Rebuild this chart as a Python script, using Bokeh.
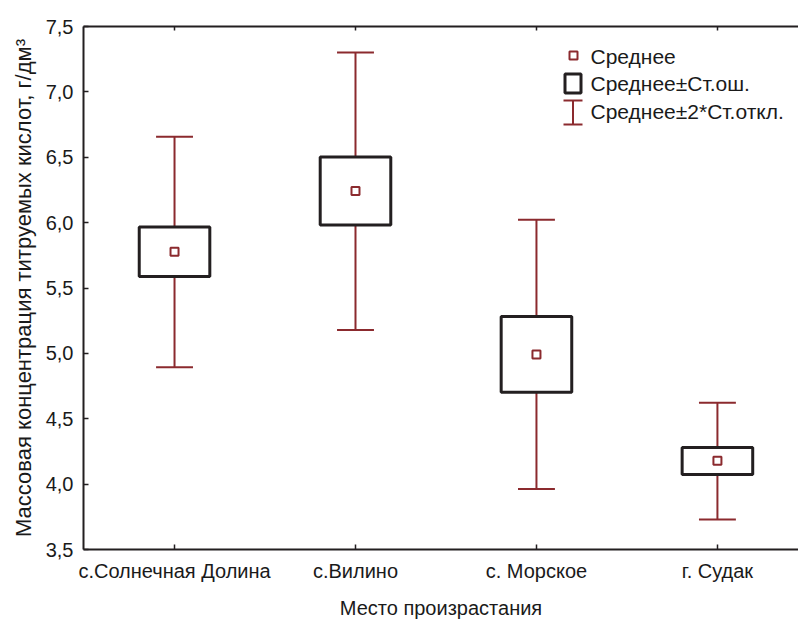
import numpy as np
from bokeh.plotting import figure
from bokeh.models import (Range1d, FixedTicker, LinearAxis, Label, BoxAnnotation,
                          PolyAnnotation, CustomJSTickFormatter, ColumnDataSource)
from bokeh.embed import file_html
from bokeh.resources import INLINE

# ---- data ----
categories = ["с.Солнечная Долина", "с.Вилино", "с. Морское", "г. Судак"]
means      = [5.777, 6.242, 4.992, 4.178]
box_low    = [5.587, 5.982, 4.702, 4.073]
box_high   = [5.967, 6.502, 5.282, 4.281]
whisk_low  = [4.893, 5.178, 3.962, 3.730]
whisk_high = [6.657, 7.302, 6.022, 4.622]
y_ticks    = [3.5, 4.0, 4.5, 5.0, 5.5, 6.0, 6.5, 7.0, 7.5]

legend_labels = ["Среднее", "Среднее±Ст.ош.", "Среднее±2*Ст.откл."]

RED = "#8B2A2E"
DARK = "#231F20"
TXT = "#1a1a1a"
FONT = "Liberation Sans"
FS = "20px"

xs = list(np.arange(len(categories), dtype=float))
box_hw = 0.195
cap_hw = 0.102

src = ColumnDataSource(dict(
    x=xs, mean=means, bl=box_low, bh=box_high, wl=whisk_low, wh=whisk_high,
    left=[x - box_hw for x in xs], right=[x + box_hw for x in xs],
    cl=[x - cap_hw for x in xs], cr=[x + cap_hw for x in xs],
))

p = figure(width=798, height=621, x_range=Range1d(-0.503, 3.448), y_range=Range1d(3.5, 7.5),
           output_backend="svg", toolbar_location=None,
           min_border_left=83, min_border_top=26, min_border_right=0, min_border_bottom=71)
p.outline_line_color = None
p.grid.visible = False
p.background_fill_color = "white"
p.border_fill_color = "white"

# whiskers
p.segment(x0="x", y0="wl", x1="x", y1="wh", source=src, line_color=RED, line_width=2)
p.segment(x0="cl", y0="wh", x1="cr", y1="wh", source=src, line_color=RED, line_width=2)
p.segment(x0="cl", y0="wl", x1="cr", y1="wl", source=src, line_color=RED, line_width=2)
# boxes
p.quad(left="left", right="right", bottom="bl", top="bh", source=src,
       fill_color="white", line_color=DARK, line_width=3)
# means
p.scatter(x="x", y="mean", source=src, marker="square", size=8,
          fill_color="white", line_color=RED, line_width=2)

# axes
xa = p.xaxis[0]
xa.ticker = FixedTicker(ticks=xs)
xa.major_label_overrides = {i: c for i, c in enumerate(categories)}
xa.axis_label = "Место произрастания"
ya = p.yaxis[0]
ya.ticker = FixedTicker(ticks=y_ticks)
ya.formatter = CustomJSTickFormatter(code="return tick.toFixed(1).replace('.', ',')")
ya.axis_label = "Массовая концентрация титруемых кислот, г/дм³"

for ax in (xa, ya):
    ax.major_tick_in = 5
    ax.major_tick_out = 0
    ax.minor_tick_line_color = None
    ax.axis_line_width = 2
    ax.axis_line_color = DARK
    ax.major_tick_line_color = DARK
    ax.major_tick_line_width = 1.5
    ax.major_label_text_font = FONT
    ax.major_label_text_font_size = FS
    ax.major_label_text_color = TXT
    ax.axis_label_text_font = FONT
    ax.axis_label_text_font_size = FS
    ax.axis_label_text_font_style = "normal"
    ax.axis_label_text_color = TXT
    ax.major_label_standoff = 10
    ax.axis_label_standoff = 12
ya.axis_label_text_font_size = "22px"
ya.axis_label_standoff = 7

top = LinearAxis(ticker=FixedTicker(ticks=xs),
                 formatter=CustomJSTickFormatter(code="return ''"),
                 major_label_standoff=0, major_tick_in=4, major_tick_out=0,
                 minor_tick_line_color=None, axis_line_width=2, axis_line_color=DARK,
                 major_tick_line_color=DARK, major_tick_line_width=1.5)
p.add_layout(top, "above")

# ---- legend (drawn in screen units, relative to the frame's bottom-left) ----
p.add_layout(BoxAnnotation(left=486, right=494, bottom=490, top=498,
                           left_units="screen", right_units="screen",
                           bottom_units="screen", top_units="screen",
                           fill_color="white", fill_alpha=1, line_color=RED, line_width=2,
                           line_alpha=1))
p.add_layout(BoxAnnotation(left=481.5, right=497.5, bottom=456.5, top=475.5,
                           left_units="screen", right_units="screen",
                           bottom_units="screen", top_units="screen",
                           fill_color="white", fill_alpha=1, line_color=DARK, line_width=3,
                           line_alpha=1))
p.add_layout(PolyAnnotation(xs=[480, 499, 489.5, 489.5, 480, 499, 489.5, 489.5],
                            ys=[449, 449, 449, 425, 425, 425, 425, 449],
                            xs_units="screen", ys_units="screen",
                            fill_alpha=0, line_color=RED, line_width=2, line_alpha=1))
for lbl, yy in zip(legend_labels, [493, 466, 438]):
    p.add_layout(Label(x=507, y=yy, x_units="screen", y_units="screen", text=lbl,
                       text_font=FONT, text_font_size="21px", text_color=TXT,
                       text_baseline="middle", text_align="left"))

open("out.html", "w").write(file_html(p, INLINE))
